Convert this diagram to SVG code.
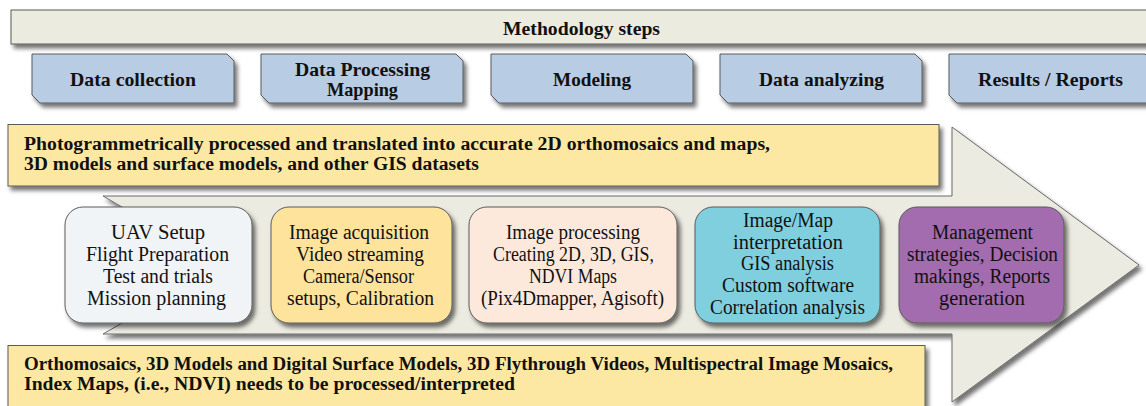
<svg xmlns="http://www.w3.org/2000/svg" width="1146" height="406" viewBox="0 0 1146 406">
<defs>
<filter id="sh" x="-10%" y="-30%" width="120%" height="170%">
<feDropShadow dx="3" dy="4" stdDeviation="2.2" flood-color="#000" flood-opacity="0.55"/>
</filter>
</defs>
<style>
.bar{fill:#ecebdf;stroke:#5a5a5a;stroke-width:1}
.step{fill:#b8cce4;stroke:#5a5a5a;stroke-width:1}
.yel{fill:#fde8a3;stroke:#5a5a5a;stroke-width:1}
.arrow{fill:#ecebe1;stroke:#6a6a6a;stroke-width:1}
.node{stroke:#5a5a5a;stroke-width:1}
.b{font-family:"Liberation Serif",serif;font-weight:bold;fill:#111}
.t{font-family:"Liberation Serif",serif;font-size:20px;fill:#111}
</style>
<rect width="1146" height="406" fill="#ffffff"/>

<g id="methodology-steps">
<rect class="bar" x="11" y="10" width="1145" height="34" filter="url(#sh)"/>
<text class="b" font-size="18" x="503" y="35" textLength="157" lengthAdjust="spacingAndGlyphs">Methodology steps</text>
</g>

<g id="step-data-collection">
<path class="step" d="M32 54 H227 L234 61 V103 H40 L32 95 Z" filter="url(#sh)"/>
<text class="b" font-size="19.5" x="70" y="86" textLength="126" lengthAdjust="spacingAndGlyphs">Data collection</text>
</g>
<g id="step-data-processing">
<path class="step" d="M261 54 H456 L463 61 V103 H269 L261 95 Z" filter="url(#sh)"/>
<text class="b" font-size="19.5" x="295" y="75.5" textLength="135" lengthAdjust="spacingAndGlyphs">Data Processing</text>
<text class="b" font-size="19.5" x="327" y="96" textLength="71" lengthAdjust="spacingAndGlyphs">Mapping</text>
</g>
<g id="step-modeling">
<path class="step" d="M491 54 H686 L693 61 V103 H499 L491 95 Z" filter="url(#sh)"/>
<text class="b" font-size="19.5" x="553" y="86" textLength="78" lengthAdjust="spacingAndGlyphs">Modeling</text>
</g>
<g id="step-data-analyzing">
<path class="step" d="M720 54 H915 L922 61 V103 H728 L720 95 Z" filter="url(#sh)"/>
<text class="b" font-size="19.5" x="759" y="86" textLength="125" lengthAdjust="spacingAndGlyphs">Data analyzing</text>
</g>
<g id="step-results">
<path class="step" d="M949 54 H1145 L1152 61 V103 H957 L949 95 Z" filter="url(#sh)"/>
<text class="b" font-size="19.5" x="978" y="86" textLength="145" lengthAdjust="spacingAndGlyphs">Results / Reports</text>
</g>

<g id="process-arrow">
<path class="arrow" d="M103 196 H952 V127 L1139 265 L952 402 V334 H103 L222 265 Z" filter="url(#sh)"/>
</g>

<g id="outputs-top">
<rect class="yel" x="8" y="124.5" width="931" height="61.5" filter="url(#sh)"/>
<text class="b" font-size="18" x="24" y="150" textLength="746" lengthAdjust="spacingAndGlyphs">Photogrammetrically processed and translated into accurate 2D orthomosaics and maps,</text>
<text class="b" font-size="18" x="24" y="169.5" textLength="455" lengthAdjust="spacingAndGlyphs">3D models and surface models, and other GIS datasets</text>
</g>

<g id="outputs-bottom">
<rect class="yel" x="8" y="345.5" width="917" height="70" filter="url(#sh)"/>
<text class="b" font-size="18" x="24" y="370" textLength="869" lengthAdjust="spacingAndGlyphs">Orthomosaics, 3D Models and Digital Surface Models, 3D Flythrough Videos, Multispectral Image Mosaics,</text>
<text class="b" font-size="18" x="24" y="389.5" textLength="491" lengthAdjust="spacingAndGlyphs">Index Maps, (i.e., NDVI) needs to be processed/interpreted</text>
</g>

<g id="node-uav-setup">
<rect class="node" x="65" y="207" width="187" height="116" rx="18" fill="#f1f4f7" filter="url(#sh)"/>
<text class="t" x="111" y="239" textLength="94" lengthAdjust="spacingAndGlyphs">UAV Setup</text>
<text class="t" x="86" y="261" textLength="143" lengthAdjust="spacingAndGlyphs">Flight Preparation</text>
<text class="t" x="103" y="283" textLength="110" lengthAdjust="spacingAndGlyphs">Test and trials</text>
<text class="t" x="87" y="304.5" textLength="139" lengthAdjust="spacingAndGlyphs">Mission planning</text>
</g>

<g id="node-image-acquisition">
<rect class="node" x="271" y="207" width="181" height="116" rx="18" fill="#fde39b" filter="url(#sh)"/>
<text class="t" x="289" y="239" textLength="140" lengthAdjust="spacingAndGlyphs">Image acquisition</text>
<text class="t" x="296" y="261" textLength="128" lengthAdjust="spacingAndGlyphs">Video streaming</text>
<text class="t" x="303" y="283" textLength="111" lengthAdjust="spacingAndGlyphs">Camera/Sensor</text>
<text class="t" x="287" y="304.5" textLength="147" lengthAdjust="spacingAndGlyphs">setups, Calibration</text>
</g>

<g id="node-image-processing">
<rect class="node" x="469" y="207" width="208" height="116" rx="18" fill="#fce9dc" filter="url(#sh)"/>
<text class="t" x="506" y="239" textLength="134" lengthAdjust="spacingAndGlyphs">Image processing</text>
<text class="t" x="493" y="261" textLength="161" lengthAdjust="spacingAndGlyphs">Creating 2D, 3D, GIS,</text>
<text class="t" x="529" y="283" textLength="88" lengthAdjust="spacingAndGlyphs">NDVI Maps</text>
<text class="t" x="481" y="304.5" textLength="183" lengthAdjust="spacingAndGlyphs">(Pix4Dmapper, Agisoft)</text>
</g>

<g id="node-interpretation">
<rect class="node" x="695" y="207" width="185" height="116" rx="18" fill="#80cfdf" filter="url(#sh)"/>
<text class="t" x="743" y="226.5" textLength="90" lengthAdjust="spacingAndGlyphs">Image/Map</text>
<text class="t" x="733" y="248.5" textLength="110" lengthAdjust="spacingAndGlyphs">interpretation</text>
<text class="t" x="741" y="270" textLength="93" lengthAdjust="spacingAndGlyphs">GIS analysis</text>
<text class="t" x="722" y="292" textLength="132" lengthAdjust="spacingAndGlyphs">Custom software</text>
<text class="t" x="710" y="313.5" textLength="155" lengthAdjust="spacingAndGlyphs">Correlation analysis</text>
</g>

<g id="node-management">
<rect class="node" x="899" y="207" width="165" height="116" rx="18" fill="#a36cae" filter="url(#sh)"/>
<text class="t" x="932" y="239" textLength="101" lengthAdjust="spacingAndGlyphs">Management</text>
<text class="t" x="907" y="261" textLength="151" lengthAdjust="spacingAndGlyphs">strategies, Decision</text>
<text class="t" x="914" y="283" textLength="136" lengthAdjust="spacingAndGlyphs">makings, Reports</text>
<text class="t" x="939" y="304.5" textLength="86" lengthAdjust="spacingAndGlyphs">generation</text>
</g>

<g id="connectors"></g>
</svg>
